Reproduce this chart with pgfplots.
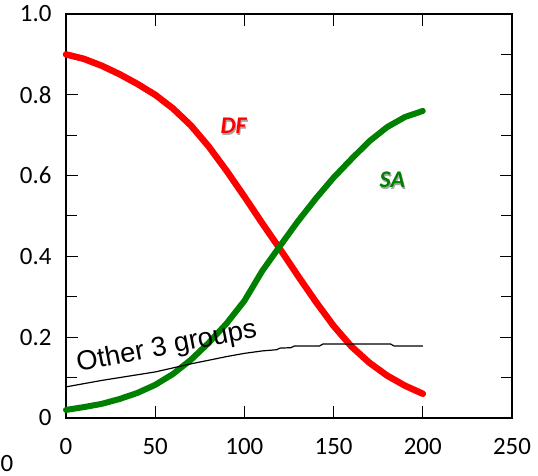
\documentclass[border=0pt]{standalone}
\usepackage{fontspec}
\setmainfont{Carlito}
\newfontfamily\arial{Liberation Sans}
\usepackage{pgfplots}
\pgfplotsset{compat=1.18}
\definecolor{dfred}{RGB}{255,0,0}
\definecolor{sagreen}{RGB}{0,128,0}
\begin{document}
\begin{tikzpicture}
\path[use as bounding box] (-66bp,-58bp) rectangle (472bp,418bp);
\begin{axis}[
  at={(0,0)}, anchor=south west,
  scale only axis, width=446bp, height=404bp,
  xmin=0, xmax=250, ymin=0, ymax=1,
  xtick={0,50,100,150,200,250},
  ytick={0,0.2,0.4,0.6,0.8,1.0},
  yticklabels={0,0.2,0.4,0.6,0.8,1.0},
  minor ytick={0.1,0.3,0.5,0.7,0.9},
  tick align=inside,
  major tick length=12bp, minor tick length=11bp,
  tick style={black, line width=1bp},
  axis line style={line width=1.2bp},
  /pgf/number format/assume math mode=true,
  ticklabel style={font=\fontsize{25}{28}\selectfont},
  xticklabel style={yshift=-17bp},
  yticklabel style={xshift=-11bp},
  clip=false,
]
\addplot[dfred, line width=6.5bp, line join=round, line cap=round] coordinates {
(0,0.900) (10,0.889) (20,0.872) (30,0.851) (40,0.827) (50,0.800) (60,0.766)
(70,0.724) (80,0.672) (90,0.612) (100,0.548) (110,0.482) (120,0.418) (130,0.352)
(140,0.288) (150,0.228) (160,0.177) (170,0.137) (180,0.105) (190,0.080) (200,0.060)};
\addplot[sagreen, line width=6bp, line join=round, line cap=round] coordinates {
(0,0.020) (10,0.027) (20,0.035) (30,0.047) (40,0.062) (50,0.082) (60,0.109)
(70,0.144) (80,0.186) (90,0.234) (100,0.290) (110,0.364) (120,0.426) (130,0.487)
(140,0.543) (150,0.595) (160,0.641) (170,0.685) (180,0.720) (190,0.745) (200,0.760)};
\addplot[black, line width=1.2bp] coordinates {
(0,0.077) (10,0.085) (20,0.093) (30,0.100) (40,0.107) (50,0.114) (60,0.124)
(70,0.134) (80,0.143) (90,0.152) (100,0.160) (110,0.166) (118,0.169) (120,0.173)
(126,0.174) (128,0.178) (142,0.178) (144,0.183) (182,0.183) (184,0.178) (200,0.178)};
\node[rotate=11, font=\arial\fontsize{27.5}{30}\selectfont] at (axis cs:56.5,0.175) {Other 3 groups};
\node[text=black!35, font=\bfseries\itshape\fontsize{24}{28}\selectfont] at ([xshift=1bp,yshift=-1.5bp]axis cs:94,0.723) {DF};
\node[text=dfred, font=\bfseries\itshape\fontsize{24}{28}\selectfont] at (axis cs:94,0.723) {DF};
\node[text=black!35, font=\bfseries\itshape\fontsize{24}{28}\selectfont] at ([xshift=1bp,yshift=-1.5bp]axis cs:183,0.589) {SA};
\node[text=sagreen, font=\bfseries\itshape\fontsize{24}{28}\selectfont] at (axis cs:183,0.589) {SA};
\end{axis}
\node[font=\fontsize{25}{28}\selectfont] at (-59bp,-45.5bp) {0};
\end{tikzpicture}
\end{document}
